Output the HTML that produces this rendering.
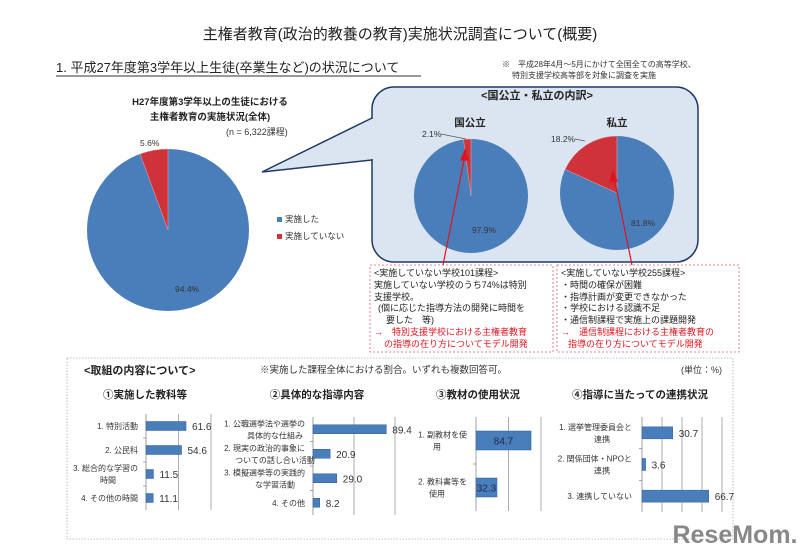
<!DOCTYPE html>
<html><head><meta charset="utf-8">
<style>
body{margin:0;background:#fff;}
svg{display:block;font-family:"Liberation Sans","Noto Sans CJK JP",sans-serif;}
</style></head>
<body>
<svg id="s" width="800" height="556" viewBox="0 0 800 556" xmlns="http://www.w3.org/2000/svg">
<text x="400" y="39" text-anchor="middle" font-size="15" fill="#222">主権者教育(政治的教養の教育)実施状況調査について(概要)</text>
<text x="56" y="72" font-size="13" fill="#222">1. 平成27年度第3学年以上生徒(卒業生など)の状況について</text>
<line x1="56" y1="76" x2="421" y2="76" stroke="#333" stroke-width="1"/>
<text x="502" y="67" font-size="8" fill="#333">※　平成28年4月～5月にかけて全国全ての高等学校、</text>
<text x="512" y="78" font-size="8" fill="#333">特別支援学校高等部を対象に調査を実施</text>

<text x="210" y="105" text-anchor="middle" font-size="9.5" font-weight="bold" fill="#222">H27年度第3学年以上の生徒における</text>
<text x="210" y="120" text-anchor="middle" font-size="9.5" font-weight="bold" fill="#222">主権者教育の実施状況(全体)</text>
<text x="226" y="135" font-size="9" fill="#333">(n = 6,322課程)</text>

<path d="M372,118 L262,172 L372,160 Z" fill="#dbe5f1" stroke="#1f3864" stroke-width="1.5"/>
<rect x="372" y="87" width="326" height="175" rx="22" fill="#dbe5f1" stroke="#1f3864" stroke-width="1.5"/>
<rect x="371" y="119" width="4" height="40" fill="#dbe5f1"/>
<text x="537" y="99" text-anchor="middle" font-size="11" font-weight="bold" fill="#222">&lt;国公立・私立の内訳&gt;</text>
<text x="470" y="126" text-anchor="middle" font-size="10.5" font-weight="bold" fill="#222">国公立</text>
<text x="617" y="126" text-anchor="middle" font-size="10.5" font-weight="bold" fill="#222">私立</text>

<g id="pies"></g>

<rect x="277" y="217" width="5" height="5" fill="#4a7ebb"/>
<text x="285" y="222" font-size="8.5" fill="#333">実施した</text>
<rect x="277" y="234" width="5" height="5" fill="#d0323a"/>
<text x="285" y="239" font-size="8.5" fill="#333">実施していない</text>

<rect x="370" y="265" width="183" height="87" fill="#fff" stroke="#e06070" stroke-dasharray="2,2" stroke-width="0.8"/>
<rect x="557" y="265" width="182" height="87" fill="#fff" stroke="#e06070" stroke-dasharray="2,2" stroke-width="0.8"/>
<g font-size="9" fill="#222">
<text x="374" y="276">&lt;実施していない学校101課程&gt;</text>
<text x="374" y="288">実施していない学校のうち74%は特別</text>
<text x="374" y="300">支援学校。</text>
<text x="378" y="311">(個に応じた指導方法の開発に時間を</text>
<text x="386" y="323">要した　等)</text>
<text x="374" y="335" fill="#e0141e">→　特別支援学校における主権者教育</text>
<text x="384" y="347" fill="#e0141e">の指導の在り方についてモデル開発</text>
</g>
<g font-size="9" fill="#222">
<text x="561" y="276">&lt;実施していない学校255課程&gt;</text>
<text x="561" y="288">・時間の確保が困難</text>
<text x="561" y="300">・指導計画が変更できなかった</text>
<text x="561" y="311">・学校における認識不足</text>
<text x="561" y="323">・通信制課程で実施上の課題開発</text>
<text x="561" y="335" fill="#e0141e">→　通信制課程における主権者教育の</text>
<text x="568" y="347" fill="#e0141e">指導の在り方についてモデル開発</text>
</g>
<g stroke="#e0141e" stroke-width="1.2" fill="#e0141e">
<line x1="443" y1="265" x2="465" y2="155"/>
<path d="M465,150 L461,160 L468,160 Z"/>
<line x1="632" y1="265" x2="614" y2="177"/>
<path d="M613,172 L610,182 L617,181 Z"/>
</g>

<rect x="67" y="358" width="666" height="181" fill="#fff" stroke="#aab" stroke-dasharray="1.5,1.5" stroke-width="0.8"/>
<text x="84" y="374" font-size="11" font-weight="bold" fill="#222">&lt;取組の内容について&gt;</text>
<text x="260" y="373" font-size="9.5" fill="#333">※実施した課程全体における割合。いずれも複数回答可。</text>
<text x="722" y="373" text-anchor="end" font-size="9" fill="#333">(単位：%)</text>
<g id="bars"></g>

<text x="735" y="543" text-anchor="middle" font-size="25" font-weight="bold" fill="#888">ReseMom.</text>
</svg>
<script>
const NS='http://www.w3.org/2000/svg';
const pieLabels=['全体','国公立','私立'];
const pieNotDone=[5.6,2.1,18.2];
const pieDone=[94.4,97.9,81.8];
const pieGeom=[[168,230,81],[471,196,57],[617,193,57]];
const pieG=document.getElementById('pies');
function mk(t,a,p){const e=document.createElementNS(NS,t);for(const k in a)e.setAttribute(k,a[k]);(p||pieG).appendChild(e);return e;}
function pt(cx,cy,r,frac){const a=frac*2*Math.PI;return [cx+r*Math.sin(a),cy-r*Math.cos(a)];}
pieNotDone.forEach((v,i)=>{
  const [cx,cy,r]=pieGeom[i];const f=v/100;
  const c=mk('circle',{cx:cx,cy:cy,r:r,fill:'#4a7ebb'});
  
  
  const p=pt(cx,cy,r,-f);
  const s=mk('path',{d:`M${cx},${cy} L${cx},${cy-r} A${r},${r} 0 ${f>0.5?1:0} 0 ${p[0]},${p[1]} Z`,fill:'#d0323a',stroke:'#e8b0b0','stroke-width':0.5});
  
  
});
function txt(x,y,s,o,p){const t=mk('text',Object.assign({x:x,y:y},o||{}),p);t.textContent=s;return t;}
let t;
t=txt(140,146,pieNotDone[0].toFixed(1)+'%',{'font-size':8.5,fill:'#333'});
t=txt(175,292,pieDone[0].toFixed(1)+'%',{'font-size':8.5,fill:'#333'});
t=txt(422,137,pieNotDone[1].toFixed(1)+'%',{'font-size':8.5,fill:'#333'});
mk('path',{d:'M441,134 L466,139',stroke:'#555',fill:'none','stroke-width':0.7});
t=txt(484,233,pieDone[1].toFixed(1)+'%',{'font-size':8.5,fill:'#333','text-anchor':'middle'});
t=txt(551,142,pieNotDone[2].toFixed(1)+'%',{'font-size':8.5,fill:'#333'});
mk('path',{d:'M575,139 L585,141',stroke:'#555',fill:'none','stroke-width':0.7});
t=txt(643,226,pieDone[2].toFixed(1)+'%',{'font-size':8.5,fill:'#333','text-anchor':'middle'});

// bar charts
const c1Cats=[['1. 特別活動'],['2. 公民科'],['3. 総合的な学習の','時間'],['4. その他の時間']];
const c1Vals=[61.6,54.6,11.5,11.1];
const c2Cats=[['1. 公職選挙法や選挙の','具体的な仕組み'],['2. 現実の政治的事象に','ついての話し合い活動'],['3. 模擬選挙等の実践的','な学習活動'],['4. その他']];
const c2Vals=[89.4,20.9,29.0,8.2];
const c3Cats=[['1. 副教材を使','用'],['2. 教科書等を','使用']];
const c3Vals=[84.7,32.3];
const c4Cats=[['1. 選挙管理委員会と','連携'],['2. 関係団体・NPOと','連携'],['3. 連携していない']];
const c4Vals=[30.7,3.6,66.7];
const chartTitles=['①実施した教科等','②具体的な指導内容','③教材の使用状況','④指導に当たっての連携状況'];
const charts=[
 {cats:c1Cats,vals:c1Vals,x0:146,ppu:0.65,grid:[50,100],y0:414,y1:510,bh:9,inside:false,tx:145,lab:138},
 {cats:c2Cats,vals:c2Vals,x0:313,ppu:0.82,grid:[50,100],y0:417,y1:515,bh:9,inside:false,tx:317,lab:305},
 {cats:c3Cats,vals:c3Vals,x0:476,ppu:0.65,grid:[50,100],y0:417,y1:511,bh:19,inside:true,tx:478,lab:467},
 {cats:c4Cats,vals:c4Vals,x0:642,ppu:1.0,grid:[20,40,60,80],y0:417,y1:512,bh:12,inside:false,tx:640,lab:632}
];
const bg=document.getElementById('bars');
charts.forEach((c,ci)=>{
  const g=mk('g',{},bg);
  
  
  const tt=txt(c.tx,398,chartTitles[ci],{'text-anchor':'middle','font-size':10.5,'font-weight':'bold',fill:'#222'},g);
  
  
  const X=v=>c.x0+v*c.ppu;
  c.grid.forEach(v=>{const l=mk('line',{x1:X(v),x2:X(v),y1:c.y0,y2:c.y1,stroke:'#999','stroke-width':0.8},g);
    
    });
  mk('line',{x1:c.x0,x2:c.x0,y1:c.y0,y2:c.y1,stroke:'#888','stroke-width':0.8},g);
  const n=c.vals.length,band=(c.y1-c.y0)/n;
  c.vals.forEach((v,i)=>{
    const cy=c.y0+band*(i+0.5);
    if(i>0) mk('line',{x1:c.x0-3,x2:c.x0,y1:c.y0+band*i,y2:c.y0+band*i,stroke:'#888','stroke-width':0.8},g);
    const r=mk('rect',{x:c.x0,y:cy-c.bh/2,width:v*c.ppu,height:c.bh,fill:'#4a7ebb',stroke:'#2f5f9a','stroke-width':0.5},g);
    
    
    let vt;
    if(c.inside) vt=txt(X(v)/2+c.x0/2,cy+4,v.toFixed(1),{'text-anchor':'middle','font-size':10,fill:'#1a2a4a'},g);
    else vt=txt(X(v)+6,cy+4,v.toFixed(1),{'font-size':10,fill:'#333'},g);
    
    
    const lines=c.cats[i];
    lines.forEach((s,j)=>{
      const yy=cy+3+(j-(lines.length-1)/2)*12;
      const lt=txt(c.lab,yy,s,{'text-anchor':lines.length>1&&j>0?'middle':'end','font-size':8,fill:'#333'},g);
      if(lines.length>1&&j>0) lt.setAttribute('x',c.lab-30);
      
      
    });
  });
});
</script>
</body></html>
